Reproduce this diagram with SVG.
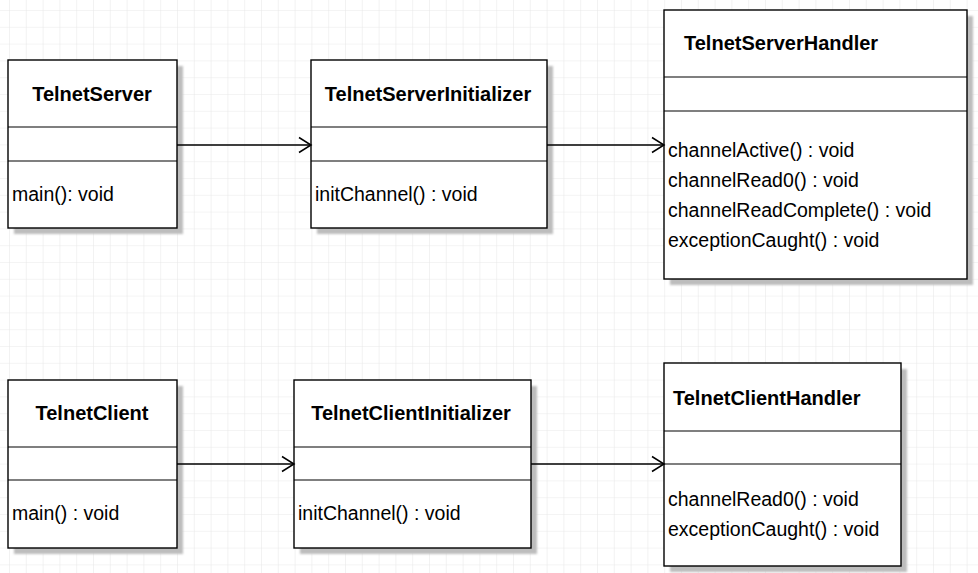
<svg xmlns="http://www.w3.org/2000/svg" width="978" height="573" viewBox="0 0 978 573">
  <defs>
    <pattern id="grid" x="9" y="10" width="16.8" height="16.8" patternUnits="userSpaceOnUse">
      <path d="M0 0H16.8M0 0V16.8" fill="none" stroke="#e9e9e9" stroke-width="1.2"/>
    </pattern>
    <filter id="blur" x="-5%" y="-5%" width="110%" height="110%">
      <feGaussianBlur stdDeviation="1.2"/>
    </filter>
    <marker id="open" markerWidth="16" markerHeight="18" refX="13" refY="9" orient="auto" markerUnits="userSpaceOnUse">
      <path d="M1 1.5 L13 9 L1 16.5" fill="none" stroke="#000" stroke-width="1.5"/>
    </marker>
  </defs>
  <style>
    .box { fill: #ffffff; stroke: #000000; stroke-width: 1.4; }
    .shadow { fill: #bdbdbd; filter: url(#blur); }
    .div { stroke: #000000; stroke-width: 1.2; }
    .title { font-family: "Liberation Sans", Arial, sans-serif; font-size: 20px; font-weight: bold; fill: #000; }
    .m { font-family: "Liberation Sans", Arial, sans-serif; font-size: 19.5px; fill: #000; }
    .conn { stroke: #000; stroke-width: 1.4; fill: none; marker-end: url(#open); }
  </style>
  <rect width="978" height="573" fill="#ffffff"/>
  <rect width="978" height="573" fill="url(#grid)"/>

  <g id="TelnetServer">
    <rect class="shadow" x="14" y="66" width="169" height="168"/>
    <rect class="box" x="8" y="60" width="169" height="168"/>
    <line class="div" x1="8" y1="127" x2="177" y2="127"/>
    <line class="div" x1="8" y1="161" x2="177" y2="161"/>
    <text class="title" x="92" y="101" text-anchor="middle">TelnetServer</text>
    <text class="m" x="12" y="201">main(): void</text>
  </g>

  <g id="TelnetServerInitializer">
    <rect class="shadow" x="317" y="66" width="236" height="168"/>
    <rect class="box" x="311" y="60" width="236" height="168"/>
    <line class="div" x1="311" y1="127" x2="547" y2="127"/>
    <line class="div" x1="311" y1="161" x2="547" y2="161"/>
    <text class="title" x="428" y="101" text-anchor="middle">TelnetServerInitializer</text>
    <text class="m" x="315" y="201">initChannel() : void</text>
  </g>

  <g id="TelnetServerHandler">
    <rect class="shadow" x="670" y="16" width="303" height="269"/>
    <rect class="box" x="664" y="10" width="303" height="269"/>
    <line class="div" x1="664" y1="77" x2="967" y2="77"/>
    <line class="div" x1="664" y1="111" x2="967" y2="111"/>
    <text class="title" x="684" y="50">TelnetServerHandler</text>
    <text class="m" x="668" y="157">channelActive() : void</text>
    <text class="m" x="668" y="187">channelRead0() : void</text>
    <text class="m" x="668" y="217">channelReadComplete() : void</text>
    <text class="m" x="668" y="247">exceptionCaught() : void</text>
  </g>

  <g id="TelnetClient">
    <rect class="shadow" x="14" y="386" width="169" height="168"/>
    <rect class="box" x="8" y="380" width="169" height="168"/>
    <line class="div" x1="8" y1="447" x2="177" y2="447"/>
    <line class="div" x1="8" y1="480" x2="177" y2="480"/>
    <text class="title" x="92" y="420" text-anchor="middle">TelnetClient</text>
    <text class="m" x="12" y="520">main() : void</text>
  </g>

  <g id="TelnetClientInitializer">
    <rect class="shadow" x="300" y="386" width="237" height="168"/>
    <rect class="box" x="294" y="380" width="237" height="168"/>
    <line class="div" x1="294" y1="447" x2="531" y2="447"/>
    <line class="div" x1="294" y1="480" x2="531" y2="480"/>
    <text class="title" x="411" y="420" text-anchor="middle">TelnetClientInitializer</text>
    <text class="m" x="298" y="520">initChannel() : void</text>
  </g>

  <g id="TelnetClientHandler">
    <rect class="shadow" x="670" y="369" width="237" height="203"/>
    <rect class="box" x="664" y="363" width="237" height="203"/>
    <line class="div" x1="664" y1="431" x2="901" y2="431"/>
    <line class="div" x1="664" y1="464" x2="901" y2="464"/>
    <text class="title" x="673" y="405">TelnetClientHandler</text>
    <text class="m" x="668" y="506">channelRead0() : void</text>
    <text class="m" x="668" y="536">exceptionCaught() : void</text>
  </g>

  <g id="connectors">
    <line class="conn" x1="177" y1="145" x2="311" y2="145"/>
    <line class="conn" x1="547" y1="145" x2="664" y2="145"/>
    <line class="conn" x1="177" y1="464" x2="294" y2="464"/>
    <line class="conn" x1="531" y1="464" x2="664" y2="464"/>
  </g>
</svg>
